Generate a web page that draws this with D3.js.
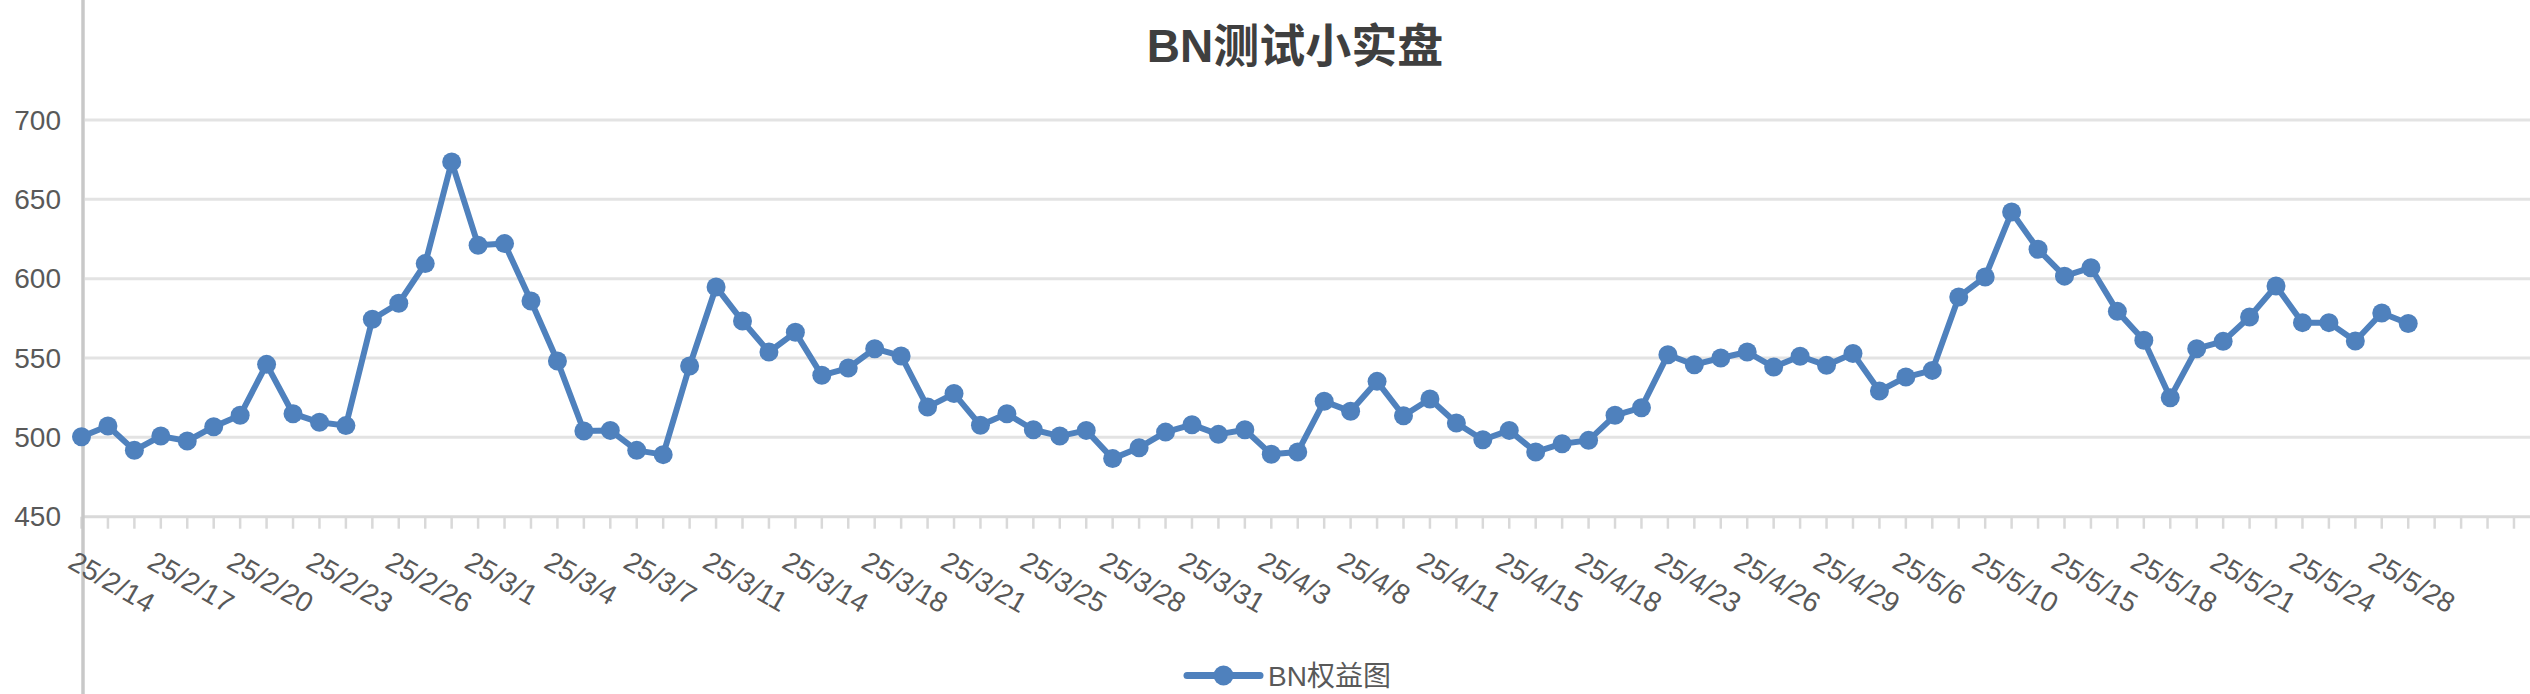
<!DOCTYPE html>
<html>
<head>
<meta charset="utf-8">
<script src="https://cdn.jsdelivr.net/npm/d3@7/dist/d3.min.js"></script>
<style>
  html, body { margin: 0; padding: 0; background: #ffffff; }
  svg { display: block; }
</style>
</head>
<body>
<svg id="chart" width="2530" height="694"></svg>
<script>
// ---- data ----
const chartTitle = "BN测试小实盘";
const seriesName = "BN权益图";
const tickLabels = ["25/2/14","25/2/17","25/2/20","25/2/23","25/2/26","25/3/1","25/3/4","25/3/7",
  "25/3/11","25/3/14","25/3/18","25/3/21","25/3/25","25/3/28","25/3/31","25/4/3","25/4/8",
  "25/4/11","25/4/15","25/4/18","25/4/23","25/4/26","25/4/29","25/5/6","25/5/10","25/5/15",
  "25/5/18","25/5/21","25/5/24","25/5/28"];
const equity = [500.4,507.2,491.8,500.8,497.7,506.7,513.9,546.0,514.9,509.5,
  507.4,574.4,584.5,609.5,673.6,621.1,622.1,585.9,548.1,504.0,
  504.4,491.8,489.1,545.0,594.8,573.3,553.8,566.2,539.1,543.7,
  555.9,551.3,519.1,527.6,507.6,514.9,504.8,500.8,504.4,486.6,
  493.5,503.3,508.0,501.9,504.8,489.3,490.8,522.7,516.4,535.3,
  513.6,524.2,509.0,498.5,504.4,490.8,496.0,498.1,513.9,518.7,
  552.1,545.8,550.0,553.8,544.3,551.1,545.4,552.8,529.2,538.0,
  542.2,588.5,601.1,642.0,618.5,601.6,606.9,579.4,561.2,525.0,
  555.9,560.5,575.9,595.4,572.3,572.3,560.7,578.4,571.7];
const yTicks = [450, 500, 550, 600, 650, 700];
const labelEvery = 3;
const slotCount = 93; // category slots on the axis (incl. empty ones at the end)

// ---- layout ----
const W = 2530, H = 694;
const axisX = 83;
const x0 = 81.5, step = 26.44;
const svg = d3.select("#chart");
const font = "'Liberation Sans', Arial, 'Noto Sans CJK SC', sans-serif";

const x = d3.scaleLinear().domain([0, slotCount - 1]).range([x0, x0 + step * (slotCount - 1)]);
const y = d3.scaleLinear().domain([450, 700]).range([516.7, 120]);

// gridlines
svg.append("g").selectAll("line").data(yTicks.filter(v => v !== 450)).join("line")
  .attr("x1", axisX + 2).attr("x2", W)
  .attr("y1", d => y(d)).attr("y2", d => y(d))
  .attr("stroke", "#e3e3e3").attr("stroke-width", 3);

// x axis baseline
svg.append("line").attr("x1", axisX).attr("x2", W)
  .attr("y1", y(450)).attr("y2", y(450))
  .attr("stroke", "#d9d9d9").attr("stroke-width", 3);

// x ticks
const idx = d3.range(slotCount);
svg.append("g").selectAll("line").data(idx).join("line")
  .attr("x1", d => x(d)).attr("x2", d => x(d))
  .attr("y1", y(450)).attr("y2", y(450) + 12)
  .attr("stroke", "#d9d9d9").attr("stroke-width", 2.5);

// y axis line (full height)
svg.append("line").attr("x1", axisX).attr("x2", axisX)
  .attr("y1", 0).attr("y2", H)
  .attr("stroke", "#c8c8c8").attr("stroke-width", 3.5);

// y labels
svg.append("g").selectAll("text").data(yTicks).join("text")
  .attr("x", 61).attr("y", d => y(d))
  .attr("text-anchor", "end").attr("dominant-baseline", "central")
  .attr("font-family", font).attr("font-size", 28).attr("fill", "#595959")
  .text(d => d);

// x labels
svg.append("g").selectAll("text").data(tickLabels).join("text")
  .attr("transform", (d, i) => `translate(${x(i * labelEvery) - 15},${567}) rotate(30)`)
  .attr("text-anchor", "start")
  .attr("font-family", font).attr("font-size", 28).attr("fill", "#595959")
  .text(d => d);

// series line
const color = "#4f81bd";
const line = d3.line().x((d, i) => x(i)).y(d => y(d));
svg.append("path").datum(equity)
  .attr("d", line).attr("fill", "none")
  .attr("stroke", color).attr("stroke-width", 6).attr("stroke-linejoin", "round");
svg.append("g").selectAll("circle").data(equity).join("circle")
  .attr("cx", (d, i) => x(i)).attr("cy", d => y(d)).attr("r", 9.5)
  .attr("fill", color);

// title
svg.append("text").attr("x", 1295).attr("y", 62)
  .attr("text-anchor", "middle")
  .attr("font-family", font).attr("font-size", 46).attr("font-weight", "bold")
  .attr("fill", "#3f3f3f").text(chartTitle);

// legend
const lg = svg.append("g");
lg.append("line").attr("x1", 1187).attr("x2", 1260).attr("y1", 675.5).attr("y2", 675.5)
  .attr("stroke", color).attr("stroke-width", 7).attr("stroke-linecap", "round");
lg.append("circle").attr("cx", 1223.5).attr("cy", 675.5).attr("r", 10).attr("fill", color);
lg.append("text").attr("x", 1268).attr("y", 686)
  .attr("font-family", font).attr("font-size", 28).attr("fill", "#595959")
  .text(seriesName);
</script>
</body>
</html>
